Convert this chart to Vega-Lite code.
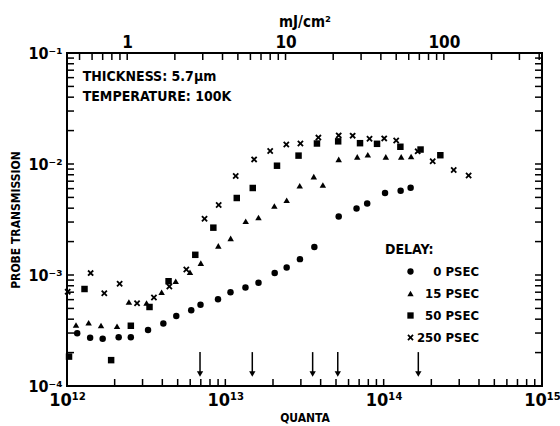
{
  "$schema": "https://vega.github.io/schema/vega-lite/v6.json",
  "width": 475,
  "height": 333,
  "autosize": {"type": "none"},
  "padding": {"left": 67, "top": 53, "right": 18, "bottom": 40},
  "background": "white",
  "config": {
    "view": {"stroke": "black", "strokeWidth": 2},
    "font": "Liberation Sans Narrow, DejaVu Sans Condensed, sans-serif",
    "axis": {"grid": false, "domain": false, "ticks": false, "labelColor": "black", "titleColor": "black", "labelFontWeight": "bold", "titleFontWeight": "bold", "labelOverlap": false, "labelFlush": false}
  },
  "datasets": {
    "points": [
      {"q": 1.16e12, "t": 2.99e-4, "delay": "0 PSEC"},
      {"q": 1.40e12, "t": 2.72e-4, "delay": "0 PSEC"},
      {"q": 1.68e12, "t": 2.67e-4, "delay": "0 PSEC"},
      {"q": 2.12e12, "t": 2.75e-4, "delay": "0 PSEC"},
      {"q": 2.53e12, "t": 2.75e-4, "delay": "0 PSEC"},
      {"q": 3.25e12, "t": 3.20e-4, "delay": "0 PSEC"},
      {"q": 4.06e12, "t": 3.66e-4, "delay": "0 PSEC"},
      {"q": 4.90e12, "t": 4.28e-4, "delay": "0 PSEC"},
      {"q": 6.09e12, "t": 4.81e-4, "delay": "0 PSEC"},
      {"q": 6.97e12, "t": 5.40e-4, "delay": "0 PSEC"},
      {"q": 8.99e12, "t": 6.04e-4, "delay": "0 PSEC"},
      {"q": 1.078e13, "t": 6.99e-4, "delay": "0 PSEC"},
      {"q": 1.34e13, "t": 7.72e-4, "delay": "0 PSEC"},
      {"q": 1.62e13, "t": 8.52e-4, "delay": "0 PSEC"},
      {"q": 2.05e13, "t": 1.04e-3, "delay": "0 PSEC"},
      {"q": 2.44e13, "t": 1.17e-3, "delay": "0 PSEC"},
      {"q": 2.96e13, "t": 1.39e-3, "delay": "0 PSEC"},
      {"q": 3.65e13, "t": 1.79e-3, "delay": "0 PSEC"},
      {"q": 5.20e13, "t": 3.37e-3, "delay": "0 PSEC"},
      {"q": 6.74e13, "t": 3.97e-3, "delay": "0 PSEC"},
      {"q": 7.87e13, "t": 4.41e-3, "delay": "0 PSEC"},
      {"q": 1.02e14, "t": 5.48e-3, "delay": "0 PSEC"},
      {"q": 1.28e14, "t": 5.75e-3, "delay": "0 PSEC"},
      {"q": 1.48e14, "t": 6.12e-3, "delay": "0 PSEC"},
      {"q": 1.14e12, "t": 3.54e-4, "delay": "15 PSEC"},
      {"q": 1.37e12, "t": 3.71e-4, "delay": "15 PSEC"},
      {"q": 1.64e12, "t": 3.51e-4, "delay": "15 PSEC"},
      {"q": 2.07e12, "t": 3.45e-4, "delay": "15 PSEC"},
      {"q": 2.46e12, "t": 5.71e-4, "delay": "15 PSEC"},
      {"q": 3.18e12, "t": 5.60e-4, "delay": "15 PSEC"},
      {"q": 3.96e12, "t": 6.99e-4, "delay": "15 PSEC"},
      {"q": 4.86e12, "t": 8.78e-4, "delay": "15 PSEC"},
      {"q": 5.98e12, "t": 1.06e-3, "delay": "15 PSEC"},
      {"q": 7.00e12, "t": 1.28e-3, "delay": "15 PSEC"},
      {"q": 9.03e12, "t": 1.83e-3, "delay": "15 PSEC"},
      {"q": 1.081e13, "t": 2.14e-3, "delay": "15 PSEC"},
      {"q": 1.345e13, "t": 3.05e-3, "delay": "15 PSEC"},
      {"q": 1.62e13, "t": 3.30e-3, "delay": "15 PSEC"},
      {"q": 2.04e13, "t": 4.18e-3, "delay": "15 PSEC"},
      {"q": 2.44e13, "t": 4.72e-3, "delay": "15 PSEC"},
      {"q": 2.95e13, "t": 6.37e-3, "delay": "15 PSEC"},
      {"q": 3.62e13, "t": 7.69e-3, "delay": "15 PSEC"},
      {"q": 4.13e13, "t": 6.47e-3, "delay": "15 PSEC"},
      {"q": 5.20e13, "t": 1.10e-2, "delay": "15 PSEC"},
      {"q": 6.81e13, "t": 1.16e-2, "delay": "15 PSEC"},
      {"q": 7.94e13, "t": 1.21e-2, "delay": "15 PSEC"},
      {"q": 1.032e14, "t": 1.16e-2, "delay": "15 PSEC"},
      {"q": 1.29e14, "t": 1.16e-2, "delay": "15 PSEC"},
      {"q": 1.49e14, "t": 1.17e-2, "delay": "15 PSEC"},
      {"q": 1.03e12, "t": 1.84e-4, "delay": "50 PSEC"},
      {"q": 1.29e12, "t": 7.48e-4, "delay": "50 PSEC"},
      {"q": 1.90e12, "t": 1.71e-4, "delay": "50 PSEC"},
      {"q": 2.53e12, "t": 3.49e-4, "delay": "50 PSEC"},
      {"q": 3.32e12, "t": 5.15e-4, "delay": "50 PSEC"},
      {"q": 4.38e12, "t": 8.79e-4, "delay": "50 PSEC"},
      {"q": 6.46e12, "t": 1.52e-3, "delay": "50 PSEC"},
      {"q": 8.40e12, "t": 2.67e-3, "delay": "50 PSEC"},
      {"q": 1.181e13, "t": 4.94e-3, "delay": "50 PSEC"},
      {"q": 1.49e13, "t": 6.08e-3, "delay": "50 PSEC"},
      {"q": 2.12e13, "t": 9.65e-3, "delay": "50 PSEC"},
      {"q": 2.90e13, "t": 1.19e-2, "delay": "50 PSEC"},
      {"q": 3.79e13, "t": 1.53e-2, "delay": "50 PSEC"},
      {"q": 5.16e13, "t": 1.60e-2, "delay": "50 PSEC"},
      {"q": 7.09e13, "t": 1.54e-2, "delay": "50 PSEC"},
      {"q": 9.08e13, "t": 1.52e-2, "delay": "50 PSEC"},
      {"q": 1.275e14, "t": 1.43e-2, "delay": "50 PSEC"},
      {"q": 1.71e14, "t": 1.35e-2, "delay": "50 PSEC"},
      {"q": 2.28e14, "t": 1.20e-2, "delay": "50 PSEC"},
      {"q": 1.01e12, "t": 7.07e-4, "delay": "250 PSEC"},
      {"q": 1.41e12, "t": 1.04e-3, "delay": "250 PSEC"},
      {"q": 1.72e12, "t": 6.84e-4, "delay": "250 PSEC"},
      {"q": 2.15e12, "t": 8.35e-4, "delay": "250 PSEC"},
      {"q": 2.77e12, "t": 5.56e-4, "delay": "250 PSEC"},
      {"q": 3.54e12, "t": 6.27e-4, "delay": "250 PSEC"},
      {"q": 4.43e12, "t": 7.88e-4, "delay": "250 PSEC"},
      {"q": 5.67e12, "t": 1.12e-3, "delay": "250 PSEC"},
      {"q": 7.39e12, "t": 3.21e-3, "delay": "250 PSEC"},
      {"q": 9.08e12, "t": 4.27e-3, "delay": "250 PSEC"},
      {"q": 1.163e13, "t": 7.80e-3, "delay": "250 PSEC"},
      {"q": 1.52e13, "t": 1.10e-2, "delay": "250 PSEC"},
      {"q": 1.92e13, "t": 1.31e-2, "delay": "250 PSEC"},
      {"q": 2.427e13, "t": 1.50e-2, "delay": "250 PSEC"},
      {"q": 2.98e13, "t": 1.53e-2, "delay": "250 PSEC"},
      {"q": 3.87e13, "t": 1.73e-2, "delay": "250 PSEC"},
      {"q": 5.20e13, "t": 1.81e-2, "delay": "250 PSEC"},
      {"q": 6.37e13, "t": 1.80e-2, "delay": "250 PSEC"},
      {"q": 8.14e13, "t": 1.69e-2, "delay": "250 PSEC"},
      {"q": 1.008e14, "t": 1.70e-2, "delay": "250 PSEC"},
      {"q": 1.20e14, "t": 1.63e-2, "delay": "250 PSEC"},
      {"q": 1.64e14, "t": 1.30e-2, "delay": "250 PSEC"},
      {"q": 2.04e14, "t": 1.06e-2, "delay": "250 PSEC"},
      {"q": 2.77e14, "t": 8.83e-3, "delay": "250 PSEC"},
      {"q": 3.44e14, "t": 7.88e-3, "delay": "250 PSEC"}
    ],
    "arrows": [
      {"q": 6.92e12, "top": 2.02e-4, "bottom": 1.3e-4, "head": 1.28e-4},
      {"q": 1.48e13, "top": 2.02e-4, "bottom": 1.3e-4, "head": 1.28e-4},
      {"q": 3.56e13, "top": 2.02e-4, "bottom": 1.3e-4, "head": 1.28e-4},
      {"q": 5.13e13, "top": 2.02e-4, "bottom": 1.3e-4, "head": 1.28e-4},
      {"q": 1.655e14, "top": 2.02e-4, "bottom": 1.3e-4, "head": 1.28e-4}
    ],
    "notes": [
      {"q": 1.256e12, "t": 0.0605, "label": "THICKNESS: 5.7μm"},
      {"q": 1.256e12, "t": 0.0398, "label": "TEMPERATURE: 100K"}
    ],
    "xticks": [
      {"v": 2e12}, {"v": 3e12}, {"v": 4e12}, {"v": 5e12}, {"v": 6e12}, {"v": 7e12}, {"v": 8e12}, {"v": 9e12}, {"v": 1e13},
      {"v": 2e13}, {"v": 3e13}, {"v": 4e13}, {"v": 5e13}, {"v": 6e13}, {"v": 7e13}, {"v": 8e13}, {"v": 9e13}, {"v": 1e14},
      {"v": 2e14}, {"v": 3e14}, {"v": 4e14}, {"v": 5e14}, {"v": 6e14}, {"v": 7e14}, {"v": 8e14}, {"v": 9e14}
    ],
    "yticks": [
      {"v": 0.0002}, {"v": 0.0003}, {"v": 0.0004}, {"v": 0.0005}, {"v": 0.0006}, {"v": 0.0007}, {"v": 0.0008}, {"v": 0.0009}, {"v": 0.001},
      {"v": 0.002}, {"v": 0.003}, {"v": 0.004}, {"v": 0.005}, {"v": 0.006}, {"v": 0.007}, {"v": 0.008}, {"v": 0.009}, {"v": 0.01},
      {"v": 0.02}, {"v": 0.03}, {"v": 0.04}, {"v": 0.05}, {"v": 0.06}, {"v": 0.07}, {"v": 0.08}, {"v": 0.09}
    ],
    "mjticks": [
      {"v": 1.2e12}, {"v": 1.44e12}, {"v": 1.68e12}, {"v": 1.92e12}, {"v": 2.16e12}, {"v": 2.4e12}, {"v": 4.8e12}, {"v": 7.2e12}, {"v": 9.6e12},
      {"v": 1.2e13}, {"v": 1.44e13}, {"v": 1.68e13}, {"v": 1.92e13}, {"v": 2.16e13}, {"v": 2.4e13}, {"v": 4.8e13}, {"v": 7.2e13}, {"v": 9.6e13},
      {"v": 1.2e14}, {"v": 1.44e14}, {"v": 1.68e14}, {"v": 1.92e14}, {"v": 2.16e14}, {"v": 2.4e14}, {"v": 4.8e14}, {"v": 7.2e14}, {"v": 9.6e14}
    ]
  },
  "layer": [
    {
      "data": {"name": "points"},
      "mark": {"type": "point", "filled": true, "color": "black", "opacity": 1, "size": 42},
      "encoding": {
        "x": {
          "field": "q", "type": "quantitative",
          "scale": {"type": "log", "domain": [1e12, 1e15], "nice": false},
          "axis": {
            "orient": "bottom", "title": "QUANTA", "titleFontSize": 12, "titlePadding": 3,
            "values": [1e12, 1e13, 1e14, 1e15],
            "labelExpr": "datum.value == 1e12 ? '10¹²' : datum.value == 1e13 ? '10¹³' : datum.value == 1e14 ? '10¹⁴' : datum.value == 1e15 ? '10¹⁵' : ''",
            "labelFontSize": 18, "labelPadding": 5, "labelBaseline": "top"
          }
        },
        "y": {
          "field": "t", "type": "quantitative",
          "scale": {"type": "log", "domain": [1e-4, 1e-1], "nice": false},
          "axis": {
            "orient": "left", "title": "PROBE TRANSMISSION", "titleFontSize": 12, "titlePadding": 6,
            "values": [0.0001, 0.001, 0.01, 0.1],
            "labelExpr": "datum.value == 0.1 ? '10⁻¹' : datum.value == 0.01 ? '10⁻²' : datum.value == 0.001 ? '10⁻³' : datum.value == 0.0001 ? '10⁻⁴' : ''",
            "labelFontSize": 16, "labelPadding": 5
          }
        },
        "shape": {
          "field": "delay", "type": "nominal",
          "scale": {
            "domain": ["0 PSEC", "15 PSEC", "50 PSEC", "250 PSEC"],
            "range": ["circle", "triangle-up", "square", "M-1,-0.6L-0.6,-1L0,-0.4L0.6,-1L1,-0.6L0.4,0L1,0.6L0.6,1L0,0.4L-0.6,1L-1,0.6L-0.4,0Z"]
          },
          "legend": {
            "orient": "none", "legendX": 318, "legendY": 190, "title": "DELAY:",
            "titleFontSize": 14, "titleFontWeight": "bold", "titleColor": "black", "titlePadding": 8,
            "labelFontSize": 13, "labelFontWeight": "bold", "labelColor": "black", "labelAlign": "right",
            "symbolFillColor": "black", "symbolStrokeColor": "black", "symbolSize": 40,
            "symbolOffset": 19, "labelOffset": 62, "rowPadding": 8, "padding": 0
          }
        }
      }
    },
    {
      "data": {"name": "arrows"},
      "mark": {"type": "rule", "color": "black", "strokeWidth": 1.5},
      "encoding": {
        "x": {
          "field": "q", "type": "quantitative",
          "scale": {"type": "log", "domain": [1e12, 1e15], "nice": false},
          "axis": {
            "orient": "top", "title": "mJ/cm²", "titleFontSize": 15, "titlePadding": 4,
            "values": [2.4e12, 2.4e13, 2.4e14],
            "labelExpr": "datum.value == 2.4e12 ? '1' : datum.value == 2.4e13 ? '10' : datum.value == 2.4e14 ? '100' : ''",
            "labelFontSize": 17, "labelPadding": 2
          }
        },
        "y": {
          "field": "top", "type": "quantitative",
          "scale": {"type": "log", "domain": [1e-4, 1e-1], "nice": false},
          "axis": null
        },
        "y2": {"field": "bottom"}
      }
    },
    {
      "data": {"name": "arrows"},
      "mark": {"type": "point", "shape": "triangle-down", "filled": true, "color": "black", "opacity": 1, "size": 40},
      "encoding": {
        "x": {"field": "q", "type": "quantitative", "scale": {"type": "log", "domain": [1e12, 1e15], "nice": false}, "axis": null},
        "y": {"field": "head", "type": "quantitative", "scale": {"type": "log", "domain": [1e-4, 1e-1], "nice": false}, "axis": null}
      }
    },
    {
      "data": {"name": "xticks"},
      "mark": {"type": "tick", "orient": "vertical", "size": 7, "thickness": 1.5, "yOffset": -3.5, "color": "black", "opacity": 1},
      "encoding": {
        "x": {"field": "v", "type": "quantitative", "scale": {"type": "log", "domain": [1e12, 1e15], "nice": false}, "axis": null},
        "y": {"datum": 0.0001, "type": "quantitative", "scale": {"type": "log", "domain": [1e-4, 1e-1], "nice": false}, "axis": null}
      }
    },
    {
      "data": {"name": "mjticks"},
      "mark": {"type": "tick", "orient": "vertical", "size": 7, "thickness": 1.5, "yOffset": 3.5, "color": "black", "opacity": 1},
      "encoding": {
        "x": {"field": "v", "type": "quantitative", "scale": {"type": "log", "domain": [1e12, 1e15], "nice": false}, "axis": null},
        "y": {"datum": 0.1, "type": "quantitative", "scale": {"type": "log", "domain": [1e-4, 1e-1], "nice": false}, "axis": null}
      }
    },
    {
      "data": {"name": "yticks"},
      "mark": {"type": "tick", "orient": "horizontal", "size": 7, "thickness": 1.5, "xOffset": 3.5, "color": "black", "opacity": 1},
      "encoding": {
        "y": {"field": "v", "type": "quantitative", "scale": {"type": "log", "domain": [1e-4, 1e-1], "nice": false}, "axis": null},
        "x": {"datum": 1e12, "type": "quantitative", "scale": {"type": "log", "domain": [1e12, 1e15], "nice": false}, "axis": null}
      }
    },
    {
      "data": {"name": "yticks"},
      "mark": {"type": "tick", "orient": "horizontal", "size": 7, "thickness": 1.5, "xOffset": -3.5, "color": "black", "opacity": 1},
      "encoding": {
        "y": {"field": "v", "type": "quantitative", "scale": {"type": "log", "domain": [1e-4, 1e-1], "nice": false}, "axis": null},
        "x": {"datum": 1e15, "type": "quantitative", "scale": {"type": "log", "domain": [1e12, 1e15], "nice": false}, "axis": null}
      }
    },
    {
      "data": {"name": "notes"},
      "mark": {"type": "text", "align": "left", "baseline": "middle", "fontSize": 14, "fontWeight": "bold", "color": "black"},
      "encoding": {
        "x": {"field": "q", "type": "quantitative", "scale": {"type": "log", "domain": [1e12, 1e15], "nice": false}, "axis": null},
        "y": {"field": "t", "type": "quantitative", "scale": {"type": "log", "domain": [1e-4, 1e-1], "nice": false}, "axis": null},
        "text": {"field": "label"}
      }
    }
  ],
  "resolve": {"axis": {"x": "independent", "y": "independent"}}
}
